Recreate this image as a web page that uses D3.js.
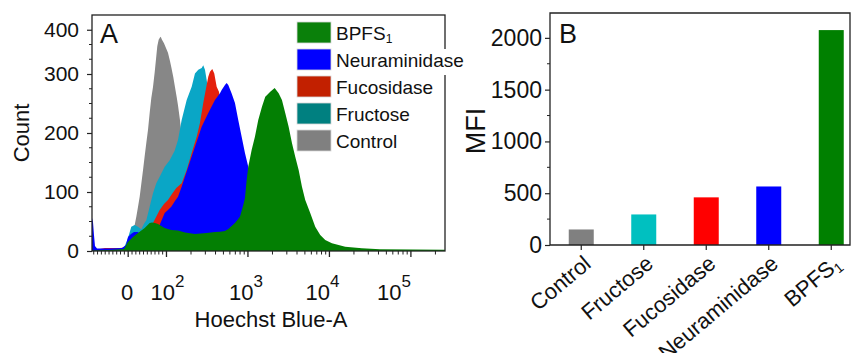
<!DOCTYPE html>
<html>
<head>
<meta charset="utf-8">
<script src="https://cdn.jsdelivr.net/npm/d3@7"></script>
<style>
  body { margin: 0; background: #fff; }
  svg text { font-family: "Liberation Sans", Arial, Helvetica, sans-serif; fill: #111; }
</style>
</head>
<body>
<svg id="chart" width="852" height="353"></svg>
<script>
// ---- data (panel A: flow histograms, [Hoechst Blue-A value, count]) ----
const seriesNames = ["Control", "Fructose", "Fucosidase", "Neuraminidase", "BPFS"];

const controlHist = [[-94.5,1.7],[-73.6,2.5],[-21.4,3.4],[-5.7,6.8],[4.7,18.6],[17,44],[21.2,58],[25.6,74.6],[30,92],[34.2,113.6],[38.7,137],[43.1,161],[47.3,183],[51.7,205],[56.1,234],[60.3,259],[64.8,278],[69.2,303],[73.4,330],[76,347],[79.6,358],[83,362],[84.9,363],[88.3,358],[93.5,352],[98.7,344],[104.3,336],[110.4,322],[114.5,312],[121.2,295],[127.1,278],[133.4,261],[138.4,247],[146.4,222],[153.6,194],[164,154],[178.5,112],[194.2,78],[217.5,49],[243.5,29],[288.5,14],[361.6,5],[601,1.7]];

const fructoseHist = [[-94.5,1.7],[-47.6,2.5],[-11,5],[-0.5,22],[8.1,41],[17,44],[25.6,41],[34.2,37],[41.3,46],[47.3,52],[56.1,75],[64.8,98],[73.4,115],[82.2,126],[95.3,143],[109.5,154],[126,170],[138.4,188],[153.6,222],[177,256],[203.8,278.5],[223.7,301],[245.6,307],[270.4,310],[282.8,315],[296.8,307],[311.3,290],[341.9,256],[393.7,188],[453.4,129],[537,78],[636,44],[798,18.6],[1058,5],[1617,1.7]];

const fucosidaseHist = [[-94.5,1.7],[-73.6,3.4],[-60.6,5],[-21.4,5],[-8.3,5.9],[4.7,11.9],[30.8,25.4],[51.7,39],[64.8,47.5],[82.2,69.5],[93.5,79.7],[104.3,86.4],[116.8,96.6],[131.9,106.8],[153.6,115],[177,137.3],[203.8,166],[234.8,193.7],[257.6,217],[282.8,251],[311.3,281.4],[325.8,295.4],[341.9,304],[364.8,308.5],[386,301],[413,278.5],[440.8,270],[493.5,230],[568,171],[673,103],[798,52.5],[1000,18.6],[1403,3.4],[2145,1.7]];

const neuraminidaseHist = [[-94.5,56],[-91.9,49],[-89.3,27],[-86.7,8.5],[-81.4,4.2],[-47.6,4.2],[-16.2,5],[-5.7,10],[-0.5,23.7],[7.3,28.8],[15.2,32.2],[25.6,32.2],[33.4,27],[43.9,30.5],[56.9,37.3],[70,40.7],[82.2,44],[95.3,64.4],[104.3,69.5],[114.5,75],[127.1,84.7],[138.4,92],[153.6,109],[185.1,143],[223.7,176.8],[270.4,210.7],[325.8,234],[393.7,256],[453.4,267.3],[475.7,273],[522.2,281.4],[548,284.7],[573.3,281.4],[631,267],[692.7,251],[760.3,222],[836.9,193.7],[918.9,166],[1008.6,143],[1119.6,103.4],[1253.6,61],[1485.6,27],[1862,10],[2470,3.4],[4345,1.7]];

const bpfsHist = [[-94.5,0.8],[-47.6,1.7],[-11,3.4],[-0.5,15.3],[12.5,23.7],[25.6,30.5],[43.1,39],[56.1,47.5],[62.1,48.3],[70,47.5],[77.8,45.8],[95.3,39],[114.5,35.6],[138.4,34.7],[168.7,31.4],[223.7,28.8],[311.3,30.5],[393.7,32.2],[453.4,32.7],[522.2,33.9],[573.3,37.3],[692.7,47.5],[797.8,58],[875.8,78],[918.9,89.8],[963.9,120.3],[1008.6,143],[1110,171],[1218,193.7],[1338,222],[1485.6,244.6],[1631,261.5],[1878,270],[2127,276.3],[2381,267.3],[2613,256],[2869,234],[3158,210.7],[3467,183],[3806,159.8],[4190,137.3],[4600,109],[5049,86.4],[5812,64.4],[6694,41.2],[7712,27.1],[8882,18.6],[10733,13],[15630,7.3],[25050,4.6],[41650,3],[105800,2.4],[261400,2]];

const hoechstRange = [-94.5, 262144];
const hoechstTicks = [0, 1e2, 1e3, 1e4, 1e5];
const hoechstTickExp = [null, "2", "3", "4", "5"];
const countTicks = [0, 100, 200, 300, 375];
const countTickLabels = ["0", "100", "200", "300", "400"];

// ---- data (panel B: mean fluorescence intensity) ----
const mfiGroups = ["Control", "Fructose", "Fucosidase", "Neuraminidase", "BPFS"];
const mfiValues = [150, 295, 460, 565, 2075];
const mfiTicks = [0, 500, 1000, 1500, 2000];

// ---- colours ----
const histFill = ["#878787", "#0aa6c6", "#e4200c", "#0000ff", "#037f03"];
const legendFill = ["#808080", "#008080", "#c22000", "#0000ff", "#0a800a"];
const barFill = ["#808080", "#00c0c0", "#ff0000", "#0000ff", "#008000"];

const svg = d3.select("#chart");
const axisColor = "#222";

// ================= panel A =================
const A = { left: 92, right: 445, top: 15, bottom: 251 };

// FlowJo-like display: linear around zero, log above 100
const biex = v => v >= 100 ? Math.log10(v) : 2 - (100 - v) / 100 * 0.47;
const xT = d3.scaleLinear().domain(hoechstRange.map(biex)).range([A.left, A.right]);
const xA = v => xT(biex(v));
const yA = d3.scaleLinear().domain([0, 400]).range([A.bottom, A.top]);

svg.append("clipPath").attr("id", "clipA")
  .append("rect").attr("x", A.left).attr("y", A.top)
  .attr("width", A.right - A.left).attr("height", A.bottom - A.top);

const hists = [controlHist, fructoseHist, fucosidaseHist, neuraminidaseHist, bpfsHist];
const area = d3.area()
  .x(d => xA(d[0]))
  .y0(yA(0))
  .y1(d => yA(d[1]));

svg.append("g").attr("clip-path", "url(#clipA)")
  .selectAll("path")
  .data(hists)
  .join("path")
  .attr("d", area)
  .attr("fill", (d, i) => histFill[i]);

// frame
const frameA = svg.append("g").attr("stroke", axisColor).attr("stroke-width", 1.3).attr("fill", "none");
frameA.append("rect").attr("x", A.left).attr("y", A.top)
  .attr("width", A.right - A.left).attr("height", A.bottom - A.top);

// y axis
const yAxisA = svg.append("g")
  .attr("transform", `translate(${A.left},0)`)
  .call(d3.axisLeft(yA).tickValues(countTicks)
    .tickFormat((d, i) => countTickLabels[i])
    .tickSize(5).tickPadding(8).tickSizeOuter(0));
yAxisA.select(".domain").remove();
yAxisA.selectAll("line").attr("stroke", axisColor).attr("stroke-width", 1.2);
yAxisA.selectAll("text").attr("font-size", 21).attr("font-family", null).attr("fill", "#111");

svg.append("g").selectAll("line")
  .data(d3.range(25, 400, 25).filter(v => !countTicks.includes(v)))
  .join("line")
  .attr("x1", A.left - 3).attr("x2", A.left)
  .attr("y1", d => yA(d)).attr("y2", d => yA(d))
  .attr("stroke", axisColor).attr("stroke-width", 1);

// x axis ticks
const minorX = [].concat(
  d3.range(-90, 0, 10), d3.range(10, 100, 10),
  d3.range(200, 1000, 100), d3.range(2000, 10000, 1000),
  d3.range(20000, 100000, 10000), [200000]
);
svg.append("g").selectAll("line")
  .data(minorX)
  .join("line")
  .attr("x1", d => xA(d)).attr("x2", d => xA(d))
  .attr("y1", A.bottom).attr("y2", A.bottom + 3.5)
  .attr("stroke", axisColor).attr("stroke-width", 1);
svg.append("g").selectAll("line")
  .data(hoechstTicks)
  .join("line")
  .attr("x1", d => xA(d)).attr("x2", d => xA(d))
  .attr("y1", A.bottom).attr("y2", A.bottom + 6)
  .attr("stroke", axisColor).attr("stroke-width", 1.3);

// decade labels sit a little left of their ticks in the original
const labelShift = [-1, 1, -2, -7, -17];
const xLab = svg.append("g").selectAll("text")
  .data(hoechstTicks)
  .join("text")
  .attr("x", (d, i) => xA(d) + labelShift[i])
  .attr("y", 300)
  .attr("text-anchor", "middle")
  .attr("font-size", 22);
xLab.append("tspan").text((d, i) => hoechstTickExp[i] ? "10" : "0");
xLab.filter((d, i) => hoechstTickExp[i])
  .append("tspan")
  .attr("dy", -13).attr("font-size", 17)
  .text((d, i) => hoechstTickExp[i + 1]);

svg.append("text")
  .attr("x", 271).attr("y", 327)
  .attr("text-anchor", "middle").attr("font-size", 22)
  .text("Hoechst Blue-A");
svg.append("text")
  .attr("transform", "translate(29,133) rotate(-90)")
  .attr("text-anchor", "middle").attr("font-size", 22)
  .text("Count");
svg.append("text")
  .attr("x", 100).attr("y", 43).attr("font-size", 27)
  .text("A");

// legend (reverse order)
const legendOrder = [4, 3, 2, 1, 0];
const leg = svg.append("g").selectAll("g")
  .data(legendOrder)
  .join("g")
  .attr("transform", (d, i) => `translate(297,${22 + i * 27})`);
leg.filter(d => seriesNames[d] === "Neuraminidase")
  .append("rect").attr("x", 36).attr("y", 0).attr("width", 134).attr("height", 26).attr("fill", "#fff");
leg.append("rect")
  .attr("width", 34).attr("height", 21)
  .attr("fill", d => legendFill[d])
  .attr("stroke", "#d8d8d8").attr("stroke-width", 0.8);
const legText = leg.append("text")
  .attr("x", 39).attr("y", 18).attr("font-size", 19);
legText.append("tspan").text(d => seriesNames[d]);
legText.filter(d => seriesNames[d] === "BPFS")
  .append("tspan").attr("dy", 3).attr("font-size", 12).text("1");

// ================= panel B =================
const B = { left: 550, right: 850, top: 13, bottom: 245 };
const xB = d3.scaleBand().domain(mfiGroups)
  .range([B.left, B.left + 312.5]).paddingInner(0.6).paddingOuter(0.3);
const yB = d3.scaleLinear().domain([0, 2240]).range([B.bottom, B.top]);

svg.append("g").selectAll("rect")
  .data(mfiValues)
  .join("rect")
  .attr("x", (d, i) => xB(mfiGroups[i]))
  .attr("width", xB.bandwidth())
  .attr("y", d => yB(d))
  .attr("height", d => yB(0) - yB(d))
  .attr("fill", (d, i) => barFill[i]);

const frameB = svg.append("g").attr("stroke", axisColor).attr("stroke-width", 1.3).attr("fill", "none");
frameB.append("path")
  .attr("d", `M${B.left},${B.bottom}V${B.top}H${B.right}V${B.bottom}H${B.left}`);

const yAxisB = svg.append("g")
  .attr("transform", `translate(${B.left},0)`)
  .call(d3.axisLeft(yB).tickValues(mfiTicks).tickFormat(d3.format("d"))
    .tickSize(5).tickPadding(3).tickSizeOuter(0));
yAxisB.select(".domain").remove();
yAxisB.selectAll("line").attr("stroke", axisColor).attr("stroke-width", 1.2);
yAxisB.selectAll("text").attr("font-size", 23).attr("font-family", null).attr("fill", "#111");

svg.append("g").selectAll("line")
  .data(d3.range(250, 2240, 500))
  .join("line")
  .attr("x1", B.left - 3).attr("x2", B.left)
  .attr("y1", d => yB(d)).attr("y2", d => yB(d))
  .attr("stroke", axisColor).attr("stroke-width", 1);

svg.append("g").selectAll("line")
  .data(mfiGroups)
  .join("line")
  .attr("x1", d => xB(d) + xB.bandwidth() / 2).attr("x2", d => xB(d) + xB.bandwidth() / 2)
  .attr("y1", B.bottom).attr("y2", B.bottom + 5)
  .attr("stroke", axisColor).attr("stroke-width", 1.2);

const catLab = svg.append("g").selectAll("text")
  .data(mfiGroups)
  .join("text")
  .attr("transform", d => `translate(${xB(d) + xB.bandwidth() / 2 + 11},266) rotate(-40)`)
  .attr("text-anchor", "end")
  .attr("font-size", 22);
catLab.append("tspan").text(d => d);
catLab.filter(d => d === "BPFS")
  .append("tspan").attr("dy", 4).attr("font-size", 14).text("1");

svg.append("text")
  .attr("transform", "translate(485,131) rotate(-90)")
  .attr("text-anchor", "middle").attr("font-size", 27)
  .text("MFI");
svg.append("text")
  .attr("x", 559).attr("y", 43).attr("font-size", 27)
  .text("B");
</script>
</body>
</html>
